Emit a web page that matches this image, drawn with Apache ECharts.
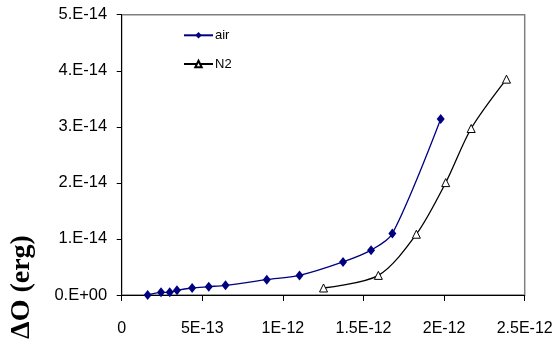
<!DOCTYPE html>
<html>
<head>
<meta charset="utf-8">
<script src="https://cdn.jsdelivr.net/npm/echarts@6/dist/echarts.min.js"></script>
<style>
html,body{margin:0;padding:0;background:#fff;}
#c{width:557px;height:344px;}
</style>
</head>
<body>
<div id="c"></div>
<script>
var airX = [1.61e-13, 2.44e-13, 2.98e-13, 3.43e-13, 4.37e-13, 5.40e-13, 6.44e-13, 9.0e-13, 1.103e-12, 1.373e-12, 1.547e-12, 1.679e-12, 1.979e-12];
var airY = [0.0, 0.048e-14, 0.048e-14, 0.084e-14, 0.125e-14, 0.149e-14, 0.173e-14, 0.274e-14, 0.35e-14, 0.59e-14, 0.80e-14, 1.095e-14, 3.14e-14];
var n2X = [1.252e-12, 1.592e-12, 1.828e-12, 2.01e-12, 2.168e-12, 2.387e-12];
var n2Y = [0.125e-14, 0.35e-14, 1.084e-14, 2.005e-14, 2.97e-14, 3.85e-14];
var xTickLabels = ['0', '5E-13', '1E-12', '1.5E-12', '2E-12', '2.5E-12'];
var yTickLabels = ['0.E+00', '1.E-14', '2.E-14', '3.E-14', '4.E-14', '5.E-14'];
var seriesNames = ['air', 'N2'];
var yAxisTitle = 'ΔO (erg)';

function pairs(xs, ys) { return xs.map(function (x, i) { return [x, ys[i]]; }); }

var chart = echarts.init(document.getElementById('c'), null, {renderer: 'canvas'});
chart.setOption({
  animation: false,
  backgroundColor: '#fff',
  grid: {
    left: 121.7, top: 14.7, right: 32.3, bottom: 49,
    show: true, borderColor: '#808080', borderWidth: 1.5, backgroundColor: 'transparent'
  },
  legend: {
    orient: 'vertical',
    left: 183, top: 28.3, padding: 0,
    itemWidth: 29, itemHeight: 8, itemGap: 14.7,
    data: seriesNames,
    textStyle: {fontFamily: 'Liberation Sans, Arial', fontSize: 13, color: '#000', lineHeight: 14, padding: [0, 0, 0, -3]}
  },
  xAxis: {
    type: 'value', min: 0, max: 2.5e-12, interval: 5e-13,
    axisLine: {show: true, lineStyle: {color: '#000', width: 1}},
    axisTick: {show: true, length: 6, lineStyle: {color: '#000'}},
    splitLine: {show: false},
    axisLabel: {
      margin: 26, color: '#000', fontFamily: 'Liberation Sans, Arial', fontSize: 16,
      formatter: function (v) { return xTickLabels[Math.round(v / 5e-13)]; }
    }
  },
  yAxis: {
    type: 'value', min: 0, max: 5e-14, interval: 1e-14,
    axisLine: {show: true, lineStyle: {color: '#000', width: 1}},
    axisTick: {show: true, length: 5, lineStyle: {color: '#000'}},
    splitLine: {show: false},
    axisLabel: {
      margin: 14.5, color: '#000', fontFamily: 'Liberation Sans, Arial', fontSize: 16.5,
      formatter: function (v) { return yTickLabels[Math.round(v / 1e-14)]; }
    }
  },
  graphic: [{
    type: 'text',
    x: 22, y: 287, rotation: Math.PI / 2,
    style: {
      text: yAxisTitle, fill: '#000',
      font: 'bold 28px "Liberation Serif", "Times New Roman", serif',
      align: 'center', verticalAlign: 'middle'
    }
  }],
  series: [{
    name: seriesNames[0], type: 'line', data: pairs(airX, airY),
    smooth: 0.3, symbol: 'diamond', symbolSize: [8, 10],
    itemStyle: {color: '#000080'},
    lineStyle: {color: '#000080', width: 1.3}
  }, {
    name: seriesNames[1], type: 'line', data: pairs(n2X, n2Y),
    smooth: 0.3, symbol: 'triangle', symbolSize: [8, 8],
    itemStyle: {color: '#ffffff', borderColor: '#000', borderWidth: 1},
    lineStyle: {color: '#000', width: 1.3}
  }]
});
</script>
</body>
</html>
